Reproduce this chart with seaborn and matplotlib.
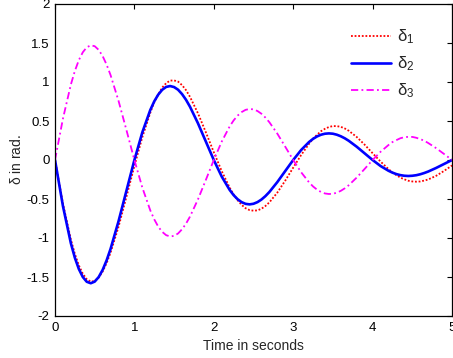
import numpy as np
import pandas as pd
import matplotlib
matplotlib.use("Agg")
import matplotlib.pyplot as plt
import seaborn as sns

# ---- data ----
t = [0.0, 0.1, 0.2, 0.25, 0.3, 0.35, 0.4, 0.45, 0.5, 0.55, 0.6, 0.65, 0.7, 0.8, 0.9,
     1.0, 1.1, 1.2, 1.25, 1.3, 1.35, 1.4, 1.45, 1.5, 1.55, 1.6, 1.65, 1.7, 1.8, 1.9,
     2.0, 2.1, 2.2, 2.25, 2.3, 2.35, 2.4, 2.45, 2.5, 2.55, 2.6, 2.65, 2.7, 2.8, 2.9,
     3.0, 3.1, 3.2, 3.25, 3.3, 3.35, 3.4, 3.45, 3.5, 3.55, 3.6, 3.65, 3.7, 3.8, 3.9,
     4.0, 4.1, 4.2, 4.25, 4.3, 4.35, 4.4, 4.45, 4.5, 4.55, 4.6, 4.65, 4.7, 4.8, 4.9,
     5.0]

delta1 = [0.0, -0.559, -1.020, -1.203, -1.350, -1.458, -1.528, -1.559, -1.551, -1.507, -1.430, -1.322, -1.187, -0.857, -0.471,
          -0.077, 0.293, 0.605, 0.742, 0.840, 0.929, 0.985, 1.018, 1.020, 1.005, 0.960, 0.896, 0.810, 0.600, 0.355,
          0.100, -0.143, -0.355, -0.443, -0.516, -0.575, -0.618, -0.642, -0.650, -0.646, -0.625, -0.590, -0.543, -0.418, -0.264,
          -0.098, 0.064, 0.208, 0.274, 0.323, 0.369, 0.400, 0.423, 0.435, 0.434, 0.425, 0.404, 0.375, 0.295, 0.196,
          0.087, -0.020, -0.116, -0.160, -0.194, -0.226, -0.248, -0.266, -0.275, -0.278, -0.275, -0.264, -0.250, -0.203, -0.140,
          -0.070]

delta2 = [0.0, -0.591, -1.068, -1.253, -1.397, -1.500, -1.561, -1.580, -1.559, -1.501, -1.409, -1.287, -1.139, -0.786, -0.393,
          0.0, 0.355, 0.641, 0.752, 0.838, 0.900, 0.937, 0.948, 0.935, 0.901, 0.845, 0.772, 0.683, 0.472, 0.236,
          0.0, -0.213, -0.384, -0.451, -0.503, -0.540, -0.562, -0.569, -0.561, -0.540, -0.507, -0.463, -0.410, -0.283, -0.141,
          0.0, 0.128, 0.231, 0.271, 0.302, 0.324, 0.337, 0.341, 0.337, 0.324, 0.304, 0.278, 0.246, 0.170, 0.085,
          0.0, -0.077, -0.138, -0.162, -0.181, -0.194, -0.202, -0.205, -0.202, -0.195, -0.183, -0.167, -0.148, -0.102, -0.051,
          0.0]

delta3 = [0.0, 0.530, 0.968, 1.141, 1.280, 1.381, 1.445, 1.470, 1.459, 1.412, 1.332, 1.223, 1.088, 0.759, 0.383,
          0.0, -0.354, -0.646, -0.761, -0.854, -0.921, -0.964, -0.980, -0.973, -0.942, -0.888, -0.816, -0.726, -0.506, -0.255,
          0.0, 0.236, 0.431, 0.508, 0.569, 0.614, 0.643, 0.654, 0.649, 0.628, 0.593, 0.544, 0.484, 0.338, 0.170,
          0.0, -0.157, -0.287, -0.339, -0.380, -0.410, -0.429, -0.436, -0.433, -0.419, -0.395, -0.363, -0.323, -0.225, -0.114,
          0.0, 0.105, 0.192, 0.230, 0.255, 0.279, 0.292, 0.297, 0.296, 0.285, 0.268, 0.247, 0.218, 0.152, 0.077,
          0.0]

series_labels = [r"$\mathregular{\delta_1}$", r"$\mathregular{\delta_2}$", r"$\mathregular{\delta_3}$"]
x_ticks = [0, 1, 2, 3, 4, 5]
x_ticklabels = ["0", "1", "2", "3", "4", "5"]
y_ticks = [-2, -1.5, -1, -0.5, 0, 0.5, 1, 1.5, 2]
y_ticklabels = ["-2", "-1.5", "-1", "-0.5", "0", "0.5", "1", "1.5", "2"]

# ---- style ----
sns.set_style("white")
plt.rcParams["font.family"] = ["Liberation Sans", "DejaVu Sans"]
plt.rcParams["mathtext.default"] = "regular"

fig = plt.figure(figsize=(4.53, 3.58), dpi=100)
ax = fig.add_axes([55 / 453, 42 / 358, 397 / 453, 312 / 358])

sns.lineplot(x=t, y=delta1, ax=ax, color=(1, 0, 0), linestyle=(0, (1, 1)), linewidth=1.3,
             label=series_labels[0])
sns.lineplot(x=t, y=delta2, ax=ax, color=(0, 0, 1), linestyle="-", linewidth=1.9,
             label=series_labels[1])
sns.lineplot(x=t, y=delta3, ax=ax, color=(1, 0, 1), linestyle=(0, (4, 1.8, 1, 1.8)), linewidth=1.3,
             label=series_labels[2])

ax.set_xlim(0, 5)
ax.set_ylim(-2, 2)
ax.set_xticks(x_ticks)
ax.set_xticklabels(x_ticklabels)
ax.set_yticks(y_ticks)
ax.set_yticklabels(y_ticklabels)
ax.tick_params(direction="in", length=3.5, width=0.8, top=True, right=True,
               labelsize=9.5, colors="black", pad=4)
for s in ax.spines.values():
    s.set_visible(True)
    s.set_color("black")
    s.set_linewidth(0.9)

ax.set_xlabel("Time in seconds", fontsize=10, labelpad=4)
ax.set_ylabel(r"$\mathregular{\delta}$ in rad.", fontsize=10, labelpad=2)

leg = ax.legend(loc="upper left", bbox_to_anchor=(0.745, 0.925), frameon=False,
                fontsize=12, handlelength=2.4, handletextpad=0.35,
                labelspacing=0.5, borderpad=0, borderaxespad=0)

fig.savefig("out.png", dpi=100)
